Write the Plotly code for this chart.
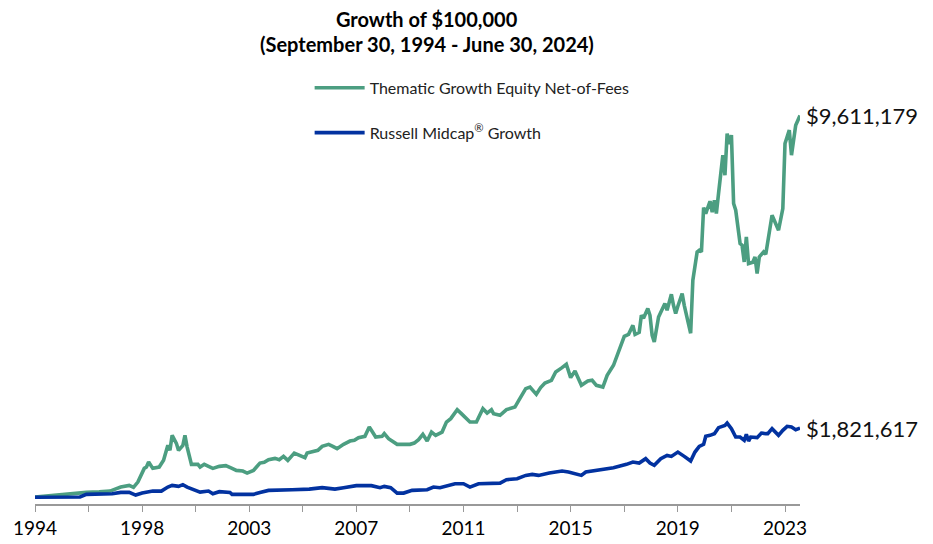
import pandas as pd
import plotly.graph_objects as go

# ---- data (values in thousands of US$) ----
thematic_dates = [
    "1994-09", "1995-03", "1995-09", "1996-03", "1996-09", "1997-03", "1997-08",
    "1998-01", "1998-05", "1998-07", "1998-09", "1998-12",
    "1999-01", "1999-02", "1999-04", "1999-07", "1999-09", "1999-11", "1999-12",
    "2000-01", "2000-03", "2000-04", "2000-06", "2000-07", "2000-08", "2000-10",
    "2001-01", "2001-02", "2001-04", "2001-06", "2001-08", "2001-11",
    "2002-02", "2002-05", "2002-07", "2002-10", "2002-12",
    "2003-03", "2003-06", "2003-08", "2003-10",
    "2004-01", "2004-03", "2004-05", "2004-07", "2004-10",
    "2005-01", "2005-03", "2005-04", "2005-07", "2005-09", "2005-11",
    "2006-02", "2006-04", "2006-06", "2006-09", "2006-12",
    "2007-02", "2007-04", "2007-07", "2007-09", "2007-10", "2007-12",
    "2008-03", "2008-04", "2008-06", "2008-10",
    "2009-02", "2009-04", "2009-06", "2009-08", "2009-10", "2009-12",
    "2010-02", "2010-04", "2010-07", "2010-09", "2010-11",
    "2011-02", "2011-04", "2011-08", "2011-11",
    "2012-02", "2012-04", "2012-06", "2012-07", "2012-10",
    "2013-01", "2013-05", "2013-07", "2013-10", "2013-12",
    "2014-03", "2014-05", "2014-07", "2014-10", "2014-12",
    "2015-03", "2015-05", "2015-07", "2015-09", "2015-12",
    "2016-03", "2016-05", "2016-07", "2016-10", "2016-12",
    "2017-03", "2017-06", "2017-08", "2017-10", "2017-12",
    "2018-01", "2018-03", "2018-04", "2018-05", "2018-07", "2018-08", "2018-09", "2018-10", "2018-12",
    "2019-01", "2019-03", "2019-04", "2019-06", "2019-07", "2019-08", "2019-09", "2019-11", "2019-12",
    "2020-03", "2020-04", "2020-05", "2020-06", "2020-07", "2020-08", "2020-09", "2020-10", "2020-12",
    "2021-01", "2021-02", "2021-03", "2021-04", "2021-05", "2021-06", "2021-07", "2021-08", "2021-09",
    "2021-10", "2021-11", "2021-12",
    "2022-02", "2022-03", "2022-04", "2022-05", "2022-06", "2022-08", "2022-09", "2022-10", "2022-11",
    "2023-01", "2023-02", "2023-05", "2023-06", "2023-08", "2023-10", "2023-11",
    "2024-01", "2024-02", "2024-04", "2024-06",
]
thematic_values = [
    100, 132, 157, 182, 219, 232, 252,
    352, 394, 344, 476, 818,
    850, 975, 818, 850, 1018, 1392, 1267,
    1641, 1442, 1267, 1392, 1641, 1349, 918,
    918, 850, 918, 868, 818, 868,
    885, 818, 768, 751, 701,
    768, 950, 968, 1035,
    1067, 1035, 1117, 1018, 1200,
    1142, 1085, 1200, 1235, 1267, 1367,
    1417, 1367, 1309, 1417, 1499,
    1516, 1584, 1616, 1848, 1766, 1599,
    1616, 1683, 1559, 1417,
    1417, 1417, 1449, 1534, 1666, 1499,
    1723, 1641, 1723, 1973, 2058,
    2282, 2182, 1973, 1973,
    2307, 2197, 2282, 2182, 2140,
    2282, 2347, 2531, 2806, 2846,
    2664, 2831, 2945, 3013, 3220,
    3329, 3412, 3080, 3245, 2888,
    2995, 3013, 2888, 2846, 3137,
    3387, 3803, 4110, 4160, 4384,
    4160, 4210, 4634, 4559, 4801, 4634, 4135, 3968, 4591,
    4716, 4926, 4759, 5158, 4883, 4676, 4858, 5175, 4883,
    4185, 5507, 5923, 6213, 6255, 6213, 7320, 7170, 7477,
    7203, 7502, 7170, 7669, 8083, 8624, 8125, 9165, 8899,
    9123, 7420, 7253,
    6422, 6380, 5963, 6587, 5923, 5956, 6088, 5674, 6088,
    6213, 6155, 7128, 7003, 6754, 7295, 8916,
    9248, 8624, 9372, 9611.179,
]

russell_dates = [
    "1994-09", "1995-09", "1996-03", "1996-06", "1996-09", "1997-09",
    "1998-01", "1998-05", "1998-08", "1998-11",
    "1999-04", "1999-08", "1999-11",
    "2000-01", "2000-04", "2000-06", "2000-08", "2000-11",
    "2001-02", "2001-06", "2001-08", "2001-11",
    "2002-04", "2002-05",
    "2003-03", "2003-06", "2003-10",
    "2004-09",
    "2005-02", "2005-05", "2005-11",
    "2006-02", "2006-05", "2006-09",
    "2007-03", "2007-10",
    "2008-02", "2008-04", "2008-07", "2008-10",
    "2009-01", "2009-05", "2009-12",
    "2010-03", "2010-06",
    "2011-01", "2011-05", "2011-08", "2011-12",
    "2012-10",
    "2013-01", "2013-06", "2013-10",
    "2014-01", "2014-04", "2014-09",
    "2015-03", "2015-06", "2015-09", "2015-12",
    "2016-02", "2016-07", "2016-12",
    "2017-03", "2017-09", "2017-12",
    "2018-03", "2018-06", "2018-08", "2018-10",
    "2019-01", "2019-04", "2019-06", "2019-09", "2019-12",
    "2020-03", "2020-05", "2020-07", "2020-09", "2020-10", "2020-12",
    "2021-02", "2021-04", "2021-07", "2021-08", "2021-10", "2021-12",
    "2022-02", "2022-04", "2022-05", "2022-06", "2022-07", "2022-10", "2022-12",
    "2023-02", "2023-03", "2023-05", "2023-08", "2023-10", "2023-12",
    "2024-02", "2024-04", "2024-06",
]
russell_values = [
    100, 107, 120, 105, 170, 187,
    219, 219, 152, 202,
    252, 252, 352,
    394, 369, 412, 352, 287,
    227, 252, 187, 237,
    219, 170,
    170, 219, 269,
    287,
    287, 302, 337,
    312, 302, 337,
    387, 387,
    337, 369, 337, 202,
    202, 269, 287,
    352, 337,
    436, 436, 352, 436,
    451,
    536, 561, 643,
    668, 643, 701,
    751, 726, 686, 643,
    726, 768, 806,
    835, 918, 975,
    950, 1060, 950, 893,
    1060, 1142, 1117, 1225, 1117,
    1000, 1225, 1367, 1417, 1616, 1641,
    1683, 1833, 1890, 1948, 1808, 1599,
    1599, 1516, 1666, 1499, 1599, 1584, 1698,
    1683, 1683, 1808, 1641, 1766, 1866,
    1848, 1783, 1821.617,
]

series_names = ["Thematic Growth Equity Net-of-Fees", "Russell Midcap<sup>\u00ae</sup> Growth"]
title_lines = ["Growth of $100,000", "(September 30, 1994 - June 30, 2024)"]

# category-style axis: labelled ticks every 50 months, plain ticks every 25
months = pd.date_range("1994-09-01", "2024-06-01", freq="MS")
label_dates = months[::50]
label_text = [str(d.year) for d in label_dates]

GREEN = "#4C9E81"
BLUE = "#0232A0"
AXIS_GREY = "#999999"
FONT = "Lato"

fig = go.Figure()
fig.add_trace(go.Scatter(
    x=thematic_dates, y=thematic_values, mode="lines", name=series_names[0],
    legendgroup="a", line=dict(color=GREEN, width=3.6),
))
fig.add_trace(go.Scatter(
    x=russell_dates, y=russell_values, mode="lines", name=series_names[1],
    legendgroup="b", line=dict(color=BLUE, width=3.6),
))

annotations = [
    dict(xref="paper", yref="paper", x=0.512, y=1.0, yshift=81, xanchor="center", yanchor="middle",
         text="<b>" + title_lines[0] + "</b>", showarrow=False,
         font=dict(family=FONT, size=20, color="#000")),
    dict(xref="paper", yref="paper", x=0.512, y=1.0, yshift=56, xanchor="center", yanchor="middle",
         text="<b>" + title_lines[1] + "</b>", showarrow=False,
         font=dict(family=FONT, size=20, color="#000")),
]
for d, v in ((thematic_dates[-1], thematic_values[-1]), (russell_dates[-1], russell_values[-1])):
    annotations.append(dict(
        x=d, y=v, xref="x", yref="y", xanchor="left", yanchor="middle", xshift=4,
        text="${:,.0f}".format(v * 1000), showarrow=False,
        font=dict(family=FONT, size=22, color="#111"),
    ))

fig.update_layout(
    width=933, height=544,
    margin=dict(l=27, r=141, t=92, b=48, autoexpand=False),
    paper_bgcolor="white", plot_bgcolor="white",
    font=dict(family=FONT, color="#111"),
    showlegend=True,
    legend=dict(
        x=0.359, y=1.072, xanchor="left", yanchor="top", yref="paper",
        font=dict(family=FONT, size=16, color="#222"),
        tracegroupgap=21, itemwidth=50, bgcolor="rgba(0,0,0,0)",
    ),
    annotations=annotations,
    xaxis=dict(
        type="date", range=["1994-09-01", "2024-06-01"], automargin=False,
        tickmode="array", tickvals=list(label_dates), ticktext=label_text,
        ticks="outside", ticklen=6, tickcolor=AXIS_GREY, tickwidth=1.3,
        minor=dict(ticks="outside", ticklen=6, tickcolor=AXIS_GREY, tickwidth=1.3,
                   tick0="1994-09-01", dtick="M25", showgrid=False),
        showline=True, linecolor=AXIS_GREY, linewidth=1.5,
        showgrid=False, zeroline=False,
        tickfont=dict(family=FONT, size=19, color="#000"),
    ),
    yaxis=dict(
        range=[-70, 10000], showticklabels=False, showgrid=False, automargin=False,
        zeroline=False, showline=False, ticks="",
    ),
)

fig.write_html("out.html")
